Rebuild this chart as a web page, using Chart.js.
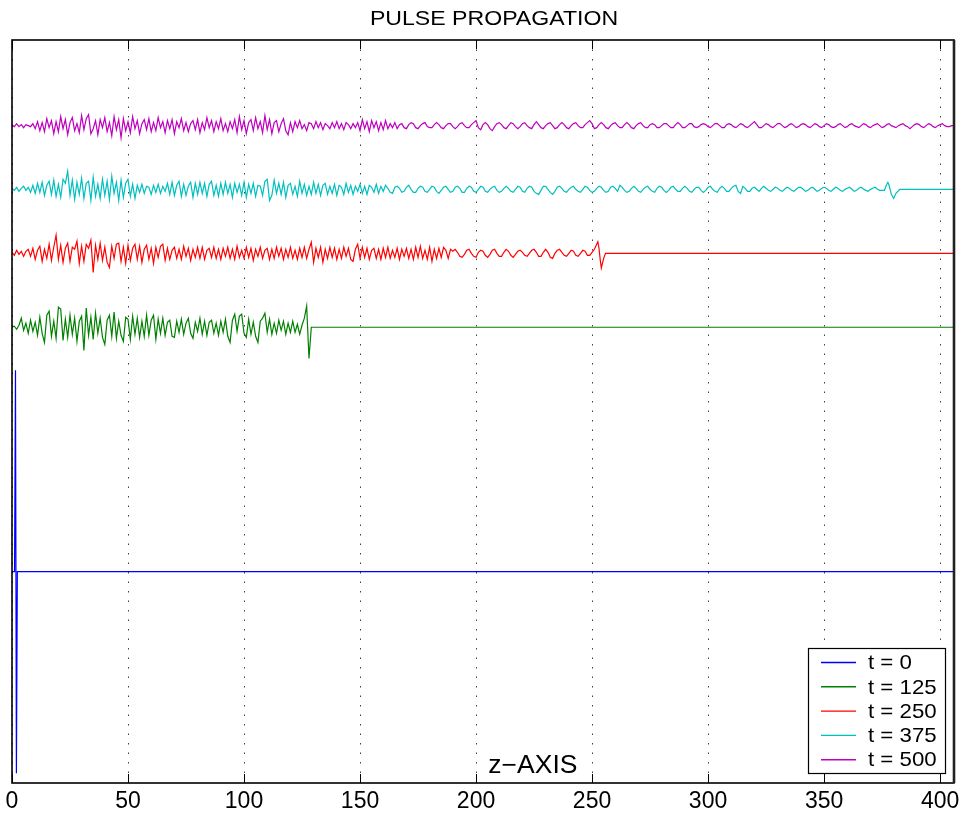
<!DOCTYPE html>
<html>
<head>
<meta charset="utf-8">
<title>Pulse propagation</title>
<script src="https://cdn.jsdelivr.net/npm/chart.js@4.4.1/dist/chart.umd.min.js"></script>
<style>
  html, body { margin: 0; padding: 0; background: #fff; }
  #wrap { width: 966px; height: 815px; position: relative; }
</style>
</head>
<body>
<div id="wrap"><canvas id="pulseChart"></canvas></div>
<script>
// ============================================================
// Pulse propagation - field along z at five time steps
// ============================================================

const TITLE = 'PULSE PROPAGATION';
const X_LABEL = 'z\u2212AXIS';
const X_TICKS = [0, 50, 100, 150, 200, 250, 300, 350, 400];
const Z_MAX = 406;
const Y_MIN = -209.7;
const Y_MAX = 527.7;

const LABELS = ['t = 0', 't = 125', 't = 250', 't = 375', 't = 500'];
const COLORS = ['#0000ff', '#008000', '#ff0000', '#00bfbf', '#bf00bf'];
// vertical shift of each trace
const OFFSETS = [0, 242.6, 316.0, 379.5, 442.7];

// t = 0 : the initial pulse only
const pulse0Z = [0, 1.1, 1.5, 1.9, 2.3, Z_MAX];
const pulse0Y = [0, 0, 200, -200, 0, 0];

// t = 125 : ripple behind the pulse, sampled at z = 0, 1, 2 ...
const ripple125 = [
    0, 1, -2, 2, 9, -3, 4, -6, 7, -4,
    5, -8, 10, -6, -15, 12, 16, -9, 6, -11,
    20, 18, -13, 8, -10, 12, -7, 9, -14, 6,
    11, -23, 19, -8, 10, -12, 14, -6, 9, -10,
    -17, 7, 12, -9, 15, -11, 6, -8, -14, 10,
    8, -12, 11, -7, 9, -10, 6, -9, 12, -8,
    7, 12, -12, 8, -6, 9, -8, 5, 7, -9,
    -10, 6, -5, 8, -7, 4, 9, -6, -11, 5,
    -4, 9, -7, 6, -8, 5, 7, -6, 4, -8,
    6, -5, 8, -9, -15, 7, 13, -4, 11, 13,
    -6, -10, 8, -7, 5, -9, -15, 6, 9, 14,
    -5, 8, -7, 4, -6, 7, -3, 6, -7, 4,
    -5, 6, -5, 3, -7, 2
];
const pulse125Z = [126, 127, 128, 129, Z_MAX];
const pulse125Y = [9, 21, -31, 0, 0];

// t = 250
const ripple250 = [
    1, -2, 3, -1, 2, -3, 2, 4, -3, 5,
    -6, 3, 7, -8, 4, -5, 9, -7, 6, 18,
    -6, 8, -9, 5, 10, -8, 6, 4, 12, -10,
    7, -8, 9, 5, 13, -19, 8, -6, 10, -7,
    6, -9, -14, 7, -5, 9, 10, -8, 6, -10,
    8, -7, 5, 9, -6, 7, -9, 4, 8, -6,
    5, -10, 6, -4, 7, 9, -7, 5, -6, 3,
    6, -5, 4, -6, 7, -3, 5, -7, 4, -4,
    6, -5, 6, -6, 3, 5, -4, 6, -5, 4,
    -6, 5, -3, 6, -5, 4, -6, 7, -4, 3,
    -5, 6, -4, 5, -7, 4, -3, 6, -5, 3,
    5, -6, 4, -5, 6, -3, 5, -6, 4, -4,
    6, -5, 3, -6, 5, -4, 6, -5, 4, 11,
    -9, 5, -4, 6, -9, 4, -5, 6, -4, 5,
    -6, 4, -5, 6, -3, 5, -6, -8, 4, 9,
    -5, 6, -4, 5, -6, 3, 5, -5, 4, -6,
    5, -4, 6, -5, 3, -4, 5, -6, 4, -3,
    5, -5, 4, -6, 6, -4, 7, -5, 3, -6,
    6, -8, 4, -5, 5, -4, 6, 3, -5, 4,
    2, 4, 1, -3, -4, -1, 3, 4, 0, -3,
    -4, 1, 3, 2, -2, -4, -1, 3, 4, 0,
    -3, -3, 1, 4, 2, -2, -4, -1, 2, 3,
    1, -2, -3, 0, 3, 4, 1, -3, -3, 1,
    4, 1, -4, -5, 0, 3, 4, 1, -2, -3,
    0, 3, 2, -2, -3, 0, 3, 2, -2, -2,
    1
];
const pulse250Z = [251, 252, 252.5, 253, 253.5, 254, 255, 255.8, Z_MAX];
const pulse250Y = [4, 9, 11.5, 5, -6, -14.5, -5, 0, 0];

// t = 375
const ripple375 = [
    1, -1, 2, -2, 1, 3, -1, 2, -3, 4,
    -4, 6, -3, 7, -6, 4, 8, -5, 9, -7,
    5, -8, 10, 6, 18, -6, 9, -10, 7, -5,
    11, -9, 6, 8, -11, 12, -7, 5, -9, 10,
    -6, 8, -10, 13, -4, 7, -11, 9, -8, 6,
    10, -7, 5, -9, 4, -3, 5, -4, 3, 2,
    -5, 4, -3, 5, -4, 3, -2, 6, -5, 7,
    -6, 4, 8, -7, 5, -6, 3, 7, -8, 6,
    -5, 7, -4, 6, -7, 5, 8, -6, 4, -7,
    6, -5, 7, -4, 5, -8, 6, -3, 5, -6,
    7, -8, 5, -4, 6, -7, 4, 3, -6, 8,
    10, -11, -6, 9, -4, 6, -5, 7, -8, 4,
    6, -5, 3, -7, 8, -4, 5, -6, 3, -5,
    7, -4, 5, -6, 4, 6, -5, 3, -4, 5,
    -6, 4, 2, -5, 6, -3, 4, -5, 3, -2,
    5, -4, 3, -5, 4, 2, -3, 5, -4, 3,
    -2, 4, 1, -3, -4, 2, 3, 1, -3, -2,
    2, 4, 0, -3, -3, 1, 3, 2, -2, -3,
    0, 3, 2, -2, -4, -1, 2, 3, 0, -3,
    -2, 2, 3, 1, -3, -3, 1, 3, 2, -2,
    -3, 0, 3, 2, -2, -3, 0, 2, 3, -1,
    -3, -2, 1, 3, 1, -2, -3, 0, 3, 2,
    -2, -3, 1, 3, 2, -2, -4, -5, -1, 3,
    3, 0, -3, -5, -2, 2, 3, 1, -2, -3,
    0, 2, 3, 0, -2, -3, 0, 3, 2, -1,
    -3, -2, 1, 3, 2, -1, -3, -2, 2, 3,
    1, -2, 4, 2, -1, -3, -2, 1, 3, 1,
    -2, -3, 0, 2, 3, 0, -2, -3, 1, 3,
    2, -1, -3, -1, 2, 3, 0, -2, -2, 1,
    3, 1, -2, -3, 0, 2, 2, -1, -3, -1,
    2, 3, 0, -2, -3, 1, 3, 1, -2, -2,
    1, 3, 4, -2, -4, 3, 1, -2, -2, 1,
    2, 0, -2, 1, 3, 1, -1, -2, 0, 2,
    1, -1, -2, 0, 2, 1, -1, -2, 0, 2,
    2, 0, -2, -1, 1, 2, 0, -2, -1, 1,
    2, 1, -1, -2, 0, 2, 1, -1, -2, 0,
    1, 2, 0, -2, -1, 1, 2, 0, -1, -2,
    0, 1, 2, 0, -1, -1
];
const pulse375Z = [376, 377, 377.5, 378, 379, 380, 381, 382.6, Z_MAX];
const pulse375Y = [-1, 5, 7, 4, -5, -9, -4, 0, 0];

// t = 500 (pulse has left the window)
const ripple500 = [
    1, -1, 2, -1, 1, -2, 1, 0, -1, 2,
    -3, 4, -5, 3, -6, 7, -2, 5, -8, 4,
    -6, 9, -3, 6, -9, 3, 8, -5, 2, -7,
    10, -4, 7, 11, -8, -3, 5, -9, 6, -2,
    8, -6, 3, -10, 9, -4, 6, -12, 7, -5,
    4, -7, 9, -3, 5, -8, 2, 6, -4, 7,
    -6, 3, -5, 8, -2, 4, -7, 5, -3, 6,
    -8, 4, -2, 7, -5, 3, -6, 2, 5, -4,
    6, -7, 3, -4, 8, -2, 5, -6, 4, -3,
    7, -5, 2, -6, 4, -3, 6, -7, 9, -4,
    5, -8, 3, 6, -5, 8, -3, 4, -7, 10,
    -4, 6, -8, 3, 5, -6, 2, 7, -5, -9,
    3, -6, 4, -2, 5, -3, 1, -5, 3, 2,
    -3, 4, -2, 3, -4, 2, 0, -3, 3, -2,
    4, -3, 2, -4, 3, 1, -3, 2, -2, 3,
    -5, 6, -3, 4, -6, 5, -2, 4, -5, 3,
    -4, 5, -3, 2, -2, 3, -3, 1, 2, -2,
    -3, 1, 3, 2, -2, -3, 0, 2, 3, -1,
    -2, -2, 1, 3, 1, -2, -3, 0, 2, 2,
    -1, -3, -1, 2, 3, 0, -2, -2, 1, 3,
    5, -2, -4, 1, 3, 1, -3, -5, -1, 2,
    3, 1, -2, -3, 0, 3, 2, -1, -3, -1,
    2, 3, 0, -2, -3, 1, 4, 1, -2, -3,
    0, 2, 3, 0, -3, -2, 1, 3, 1, -2,
    -3, 0, 2, 3, 0, -2, -2, 1, 3, 5,
    2, -3, -2, 1, 3, 1, -2, -3, 0, 2,
    3, 0, -2, -2, 1, 3, 1, -2, -3, 0,
    2, 3, 0, -2, -2, 1, 2, 1, -2, -2,
    0, 2, 2, 0, -2, -2, 1, 3, 1, -2,
    -2, 0, 2, 2, -1, -2, -1, 1, 2, 1,
    -1, -2, 0, 2, 2, 0, -2, -2, 1, 2,
    1, -1, -2, 0, 2, 1, -1, -2, 0, 2,
    4, 1, -2, -2, 0, 2, 1, -1, -2, 0,
    2, 2, 0, -2, -1, 1, 2, 0, -2, -1,
    1, 2, 1, -1, -2, 0, 2, 1, -1, -2,
    0, 2, 1, -1, -2, -1, 1, 2, 0, -2,
    -1, 1, 2, 0, -1, -2, 0, 2, 1, -1,
    -2, 0, 1, 2, 0, -2, -1, 1, 2, 0,
    -1, -2, 0, 1, 2, 0, -1, -3, -1, 1,
    2, 1, -1, -2, 0, 2, 1, -1, -2, 0,
    1, 2, 0, -1, -1, 0, 0
];

const RIPPLES = [[], ripple125, ripple250, ripple375, ripple500];
const PULSE_Z = [pulse0Z, pulse125Z, pulse250Z, pulse375Z, []];
const PULSE_Y = [pulse0Y, pulse125Y, pulse250Y, pulse375Y, []];

const FONT = "'Liberation Sans', Arial, Helvetica, sans-serif";

// ripple samples sit at z = index, the pulse part carries its own z
function buildTrace(k) {
    const off = OFFSETS[k];
    const pts = RIPPLES[k].map((v, i) => ({ x: i, y: v + off }));
    PULSE_Z[k].forEach((z, i) => pts.push({ x: z, y: PULSE_Y[k][i] + off }));
    return pts;
}

// the old figure's text is a little wider than the font, so stretch it
function wideText(ctx, text, x, y, sx) {
    ctx.save();
    ctx.translate(x, y);
    ctx.scale(sx, 1);
    ctx.fillText(text, 0, 0);
    ctx.restore();
}

// frame, inward ticks, title, axis text and the boxed legend
const decorPlugin = {
    id: 'decor',
    afterDatasetsDraw(chart) {
        const { ctx, chartArea: a, scales } = chart;
        ctx.save();

        // inward tick marks top and bottom
        ctx.strokeStyle = '#000';
        ctx.lineWidth = 1;
        X_TICKS.forEach(v => {
            const px = Math.round(scales.x.getPixelForValue(v)) + 0.5;
            ctx.beginPath();
            ctx.moveTo(px, a.top); ctx.lineTo(px, a.top + 9);
            ctx.moveTo(px, a.bottom); ctx.lineTo(px, a.bottom - 9);
            ctx.stroke();
        });

        // axes box
        ctx.lineWidth = 1.6;
        ctx.strokeRect(a.left, a.top, a.right - a.left, a.bottom - a.top);
        ctx.lineWidth = 2.6;
        ctx.strokeStyle = '#222';
        ctx.beginPath();
        ctx.moveTo(a.right, a.top); ctx.lineTo(a.right, a.bottom);
        ctx.stroke();

        // title
        ctx.fillStyle = '#000';
        ctx.textAlign = 'center';
        ctx.textBaseline = 'alphabetic';
        ctx.font = `21px ${FONT}`;
        wideText(ctx, TITLE, (a.left + a.right) / 2 + 11, 24.5, 1.1);

        // axis name, inside the plot
        ctx.font = `25px ${FONT}`;
        wideText(ctx, X_LABEL, scales.x.getPixelForValue(224.5), a.bottom - 10, 1.06);

        // legend
        const bx = a.right - 146, by = a.bottom - 135, bw = 137, bh = 125;
        ctx.fillStyle = '#fff';
        ctx.fillRect(bx, by, bw, bh);
        ctx.strokeStyle = '#000';
        ctx.lineWidth = 1.2;
        ctx.strokeRect(bx + 0.5, by + 0.5, bw, bh);
        ctx.font = `21px ${FONT}`;
        ctx.textAlign = 'left';
        ctx.textBaseline = 'middle';
        chart.data.datasets.forEach((ds, i) => {
            const ry = by + 14.5 + i * 24.3;
            ctx.strokeStyle = ds.borderColor;
            ctx.lineWidth = 1.4;
            ctx.beginPath();
            ctx.moveTo(bx + 13, ry); ctx.lineTo(bx + 48, ry);
            ctx.stroke();
            ctx.fillStyle = '#000';
            wideText(ctx, ds.label, bx + 60, ry + 1, 1.06);
        });

        ctx.restore();
    }
};

const chart = new Chart(document.getElementById('pulseChart'), {
    type: 'line',
    data: {
        datasets: LABELS.map((label, k) => ({
            label: label,
            data: buildTrace(k),
            borderColor: COLORS[k],
            borderWidth: 1.2,
            pointRadius: 0,
            tension: 0,
            fill: false
        }))
    },
    options: {
        responsive: true,
        maintainAspectRatio: false,
        animation: false,
        layout: { padding: { left: 12, right: 12, top: 40, bottom: 0 } },
        plugins: {
            legend: { display: false },
            tooltip: { enabled: false }
        },
        scales: {
            x: {
                type: 'linear',
                min: 0,
                max: Z_MAX,
                afterFit: (scale) => { scale.height = 32; },
                afterBuildTicks: (scale) => {
                    scale.ticks = X_TICKS.map(v => ({ value: v }));
                },
                grid: {
                    color: 'rgba(0, 0, 0, 0.75)',
                    lineWidth: 1,
                    drawTicks: false
                },
                border: { display: false, dash: [1.5, 8] },
                ticks: {
                    color: '#000',
                    padding: 5,
                    maxRotation: 0,
                    autoSkip: false,
                    font: { family: FONT, size: 23 }
                }
            },
            y: {
                display: false,
                min: Y_MIN,
                max: Y_MAX
            }
        }
    },
    plugins: [decorPlugin]
});
</script>
</body>
</html>
